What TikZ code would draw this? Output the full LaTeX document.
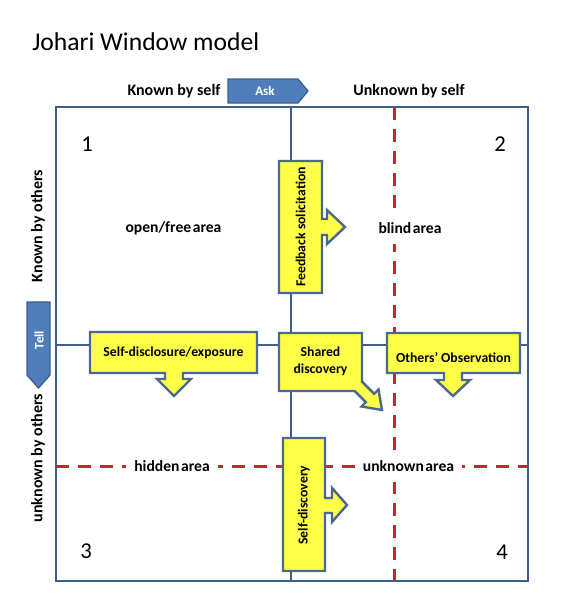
\documentclass[tikz,border=0pt]{standalone}
\usepackage{fontspec}
\setmainfont{Carlito}
\newfontfamily\areafont[WordSpace=0.45]{Carlito}
\definecolor{frameblue}{HTML}{3E5F8C}
\definecolor{boxyellow}{HTML}{FFFF4A}
\definecolor{boxedge}{HTML}{4A6890}
\definecolor{askfill}{HTML}{4F7EBB}
\definecolor{askedge}{HTML}{3A5F8F}
\definecolor{dashred}{HTML}{C0282D}
\begin{document}
\begin{tikzpicture}[x=0.75pt,y=-0.75pt,
  frame/.style={draw=frameblue,line width=1.6pt},
  reddash/.style={draw=dashred,line width=2.25pt,dash pattern=on 9.75pt off 6.75pt},
  callout/.style={fill=boxyellow,draw=boxedge,line width=1.8pt,line join=miter},
  tab/.style={fill=askfill,draw=askedge,line width=1pt},
  calltext/.style={font=\fontsize{10.3}{12.75}\selectfont\bfseries,align=center,inner sep=0pt},
  head/.style={font=\fontsize{12}{14}\selectfont\bfseries,inner sep=0pt},
  area/.style={font=\areafont\fontsize{11.7}{14}\selectfont\bfseries,fill=white,inner xsep=6pt,inner ysep=8pt},
  num/.style={font=\fontsize{17}{20}\selectfont,inner sep=0pt},
  tabtext/.style={font=\fontsize{9.8}{11}\selectfont\bfseries,text=white,inner sep=0pt}]
\useasboundingbox (0,0) rectangle (576,614);
% title
\node[font=\fontsize{19.2}{23}\selectfont,anchor=west,inner sep=0pt] (title) at (32,42) {Johari Window model};
% frame
\coordinate (tl) at (56,107); \coordinate (br) at (528,581);
\draw[frame] (tl) rectangle (br);
\coordinate (vt) at (291,107); \coordinate (vb) at (291,581);
\coordinate (hl) at (56,345); \coordinate (hr) at (528,345);
\draw[frame] (vt) -- (vb);
\draw[frame] (hl) -- (hr);
% red dashed
\coordinate (rt) at (394,107); \coordinate (rb) at (394,581);
\coordinate (rl) at (56,466); \coordinate (rr) at (528,466);
\draw[reddash] (rt) -- (rb);
\draw[reddash] (rl) -- (rr);
% headers
\node[head] (kself) at (174,91) {Known by self};
\node[head] (uself) at (409,91) {Unknown by self};
\node[head,rotate=90] (kothers) at (38,226) {Known by others};
\node[head,rotate=90] (uothers) at (38,458) {unknown by others};
% ask / tell
\draw[tab] (228,79) -- (298,79) -- (308,91) -- (298,103) -- (228,103) -- cycle;
\node[tabtext] (ask) at (265,91) {Ask};
\draw[tab] (27,302) -- (50,302) -- (50,375) -- (38.5,388) -- (27,375) -- cycle;
\node[tabtext,rotate=90] (tell) at (39,340) {Tell};
% numbers
\node[num] (n1) at (87,144) {1};
\node[num] (n2) at (500,144) {2};
\node[num] (n3) at (86,551) {3};
\node[num] (n4) at (502,552) {4};
% areas
\node[area] (open) at (173.5,228) {open/free area};
\node[area] (blind) at (410,228) {blind area};
\node[area] (hidden) at (172,466) {hidden area};
\node[area] (unknown) at (408.5,466) {unknown area};
% callouts
\draw[callout] (279,161) -- (322,161) -- (322,219) -- (327,219) -- (327,210) -- (345,227) -- (327,244) -- (327,235) -- (322,235) -- (322,293) -- (279,293) -- cycle;
\node[calltext,rotate=90] (feedback) at (300.5,227) {Feedback solicitation};
\draw[callout] (90,332) -- (257,332) -- (257,373) -- (183,373) -- (183,379) -- (191,379) -- (174,396) -- (157,379) -- (165,379) -- (165,373) -- (90,373) -- cycle;
\node[calltext] (disclosure) at (173.5,353) {Self-disclosure/exposure};
\draw[callout] (279,333) -- (362,333) -- (362,381.6) -- (374.2,393.8) -- (378.5,389.5) -- (382,410) -- (361.5,406.5) -- (365.8,402.2) -- (354.6,391) -- (279,391) -- cycle;
\node[calltext] (shared) at (320.5,361.5) {Shared\\discovery};
\draw[callout] (387,333) -- (520,333) -- (520,373) -- (462,373) -- (462,380) -- (470,380) -- (453,396) -- (436,380) -- (444,380) -- (444,373) -- (387,373) -- cycle;
\node[calltext] (others) at (453.5,358) {Others’ Observation};
\draw[callout] (283,438) -- (325,438) -- (325,498) -- (332,498) -- (332,488) -- (347,505) -- (332,522) -- (332,513) -- (325,513) -- (325,571) -- (283,571) -- cycle;
\node[calltext,rotate=90] (selfdisc) at (304,505) {Self-discovery};
\end{tikzpicture}
\end{document}
